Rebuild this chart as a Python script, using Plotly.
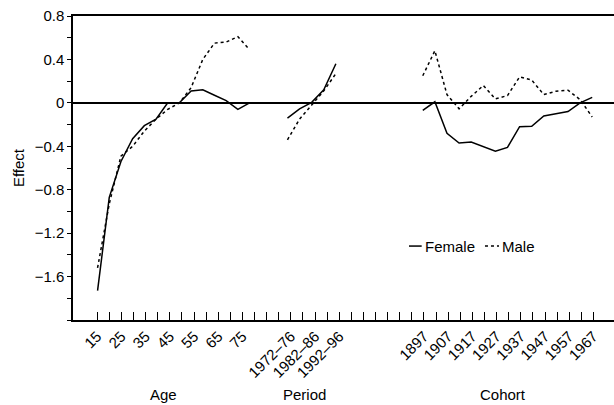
import plotly.graph_objects as go

# ---------------- data ----------------
ages = [15, 20, 25, 30, 35, 40, 45, 50, 55, 60, 65, 70, 75, 80]
female_age = [-1.73, -0.87, -0.54, -0.33, -0.21, -0.15, 0.0, 0.0, 0.11, 0.12, 0.07, 0.02, -0.06, 0.0]
male_age = [-1.52, -0.93, -0.49, -0.40, -0.26, -0.15, -0.06, 0.0, 0.14, 0.40, 0.55, 0.56, 0.61, 0.49]

periods = ["1972–76", "1977–81", "1982–86", "1987–91", "1992–96"]
female_period = [-0.14, -0.055, 0.005, 0.12, 0.36]
male_period = [-0.34, -0.15, -0.02, 0.11, 0.27]

cohorts = [1897, 1902, 1907, 1912, 1917, 1922, 1927, 1932, 1937, 1942, 1947, 1952, 1957, 1962, 1967]
female_cohort = [-0.07, 0.01, -0.28, -0.37, -0.36, -0.40, -0.445, -0.41, -0.22, -0.215, -0.12, -0.10, -0.08, 0.0, 0.05]
male_cohort = [0.25, 0.48, 0.076, -0.055, 0.06, 0.16, 0.037, 0.067, 0.24, 0.21, 0.076, 0.107, 0.116, 0.03, -0.13]

y_tick_vals = [-1.6, -1.2, -0.8, -0.4, 0, 0.4, 0.8]

# ---------------- layout constants (positions on the combined axis) ----------------
AGE_START, AGE_STEP = 0.03, 0.966
PER_START, PER_STEP = 15.72, 1.0
COH_START, COH_STEP = 26.9, 1.0
AGE_TICK0, PER_TICK0, COH_TICK0 = 0, 16, 27
N_TICKS = 42

def positions(n, start, step):
    return [start + step * i for i in range(n)]

x_age = positions(len(ages), AGE_START, AGE_STEP)
x_per = positions(len(periods), PER_START, PER_STEP)
x_coh = positions(len(cohorts), COH_START, COH_STEP)

def fmt(v):
    if abs(v) < 1e-9:
        return "0"
    s = f"{v:.1f}"
    return s.replace("-", "\u2212")

# tick labels
tickvals = list(range(N_TICKS))
ticktext = [""] * N_TICKS
for i, a in enumerate(ages):
    if i % 2 == 0 and a <= 75:
        ticktext[AGE_TICK0 + i] = str(a)
for j, p in enumerate(periods):
    if j % 2 == 0:
        ticktext[PER_TICK0 + j] = p
for k, c in enumerate(cohorts):
    if k % 2 == 0:
        ticktext[COH_TICK0 + k] = str(c)

LW = 1.5
FS = 15
fig = go.Figure()
for xs, f, m in [(x_age, female_age, male_age), (x_per, female_period, male_period), (x_coh, female_cohort, male_cohort)]:
    fig.add_trace(go.Scatter(x=xs, y=f, mode="lines", line=dict(color="black", width=LW), showlegend=False, name="Female"))
    fig.add_trace(go.Scatter(x=xs, y=m, mode="lines", line=dict(color="black", width=LW, dash="dot"), showlegend=False, name="Male"))

FONT = "Liberation Sans, Arial, sans-serif"
fig.update_layout(
    width=614, height=405,
    margin=dict(l=73, r=0, t=16, b=85, pad=0),
    paper_bgcolor="white", plot_bgcolor="white",
    font=dict(family=FONT, size=FS, color="black"),
    showlegend=False,
)
fig.update_xaxes(
    range=[-2.0, 42.7],
    tickmode="array", tickvals=tickvals, ticktext=ticktext,
    tickangle=-45, ticks="inside", ticklen=8, tickwidth=1.2, tickcolor="black",
    showline=True, linecolor="black", linewidth=1.5, mirror=True,
    showgrid=False, zeroline=False,
    tickfont=dict(size=FS, color="black"),
)
fig.update_yaxes(
    range=[-2.0, 0.8],
    tickmode="array", tickvals=y_tick_vals, ticktext=[fmt(v) for v in y_tick_vals],
    ticks="outside", ticklen=4, tickwidth=1.2, tickcolor="black",
    minor=dict(tickmode="linear", tick0=0, dtick=0.2, ticks="outside", ticklen=4, tickwidth=1.2, tickcolor="black"),
    showline=True, linecolor="black", linewidth=1.5, mirror=False,
    showgrid=False, zeroline=True, zerolinecolor="black", zerolinewidth=1.5,
    title=dict(text="Effect", standoff=6, font=dict(size=FS, color="black")),
    tickfont=dict(size=FS, color="black"),
)

# group labels
for txt, xc in [("Age", 5.5), ("Period", 17.1), ("Cohort", 33.5)]:
    fig.add_annotation(x=xc, y=-0.245, xref="x", yref="paper", text=txt, showarrow=False,
                       xanchor="center", yanchor="middle", font=dict(size=FS, color="black"))

# legend (drawn as short line samples plus text)
LEG_Y = -1.319
fig.add_shape(type="line", x0=25.76, x1=26.81, y0=LEG_Y, y1=LEG_Y, xref="x", yref="y",
              line=dict(color="black", width=LW))
fig.add_annotation(x=26.95, y=LEG_Y, xref="x", yref="y", text="Female", showarrow=False,
                   xanchor="left", yanchor="middle", font=dict(size=FS, color="black"))
fig.add_shape(type="line", x0=32.04, x1=33.2, y0=LEG_Y, y1=LEG_Y, xref="x", yref="y",
              line=dict(color="black", width=LW, dash="dot"))
fig.add_annotation(x=33.3, y=LEG_Y, xref="x", yref="y", text="Male", showarrow=False,
                   xanchor="left", yanchor="middle", font=dict(size=FS, color="black"))

fig.write_html("out.html")
